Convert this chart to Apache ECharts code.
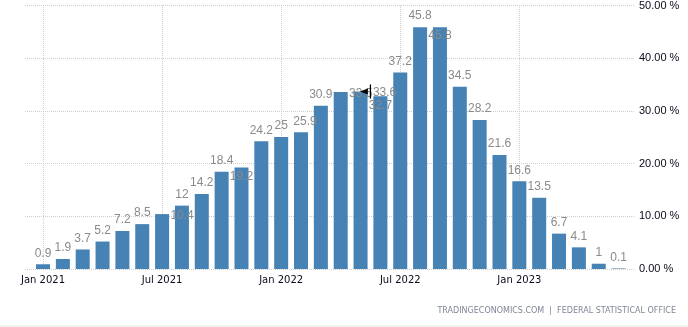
<!DOCTYPE html>
<html>
<head>
<meta charset="utf-8">
<script src="https://cdn.jsdelivr.net/npm/echarts@6/dist/echarts.min.js"></script>
<style>
  html, body { margin: 0; padding: 0; background: #fff; }
  #chart { width: 688px; height: 327px; }
</style>
</head>
<body>
<div id="chart"></div>
<script>
// Germany producer prices, year-on-year change (%), monthly
const months = [
  'Jan 2021', 'Feb 2021', 'Mar 2021', 'Apr 2021', 'May 2021', 'Jun 2021',
  'Jul 2021', 'Aug 2021', 'Sep 2021', 'Oct 2021', 'Nov 2021', 'Dec 2021',
  'Jan 2022', 'Feb 2022', 'Mar 2022', 'Apr 2022', 'May 2022', 'Jun 2022',
  'Jul 2022', 'Aug 2022', 'Sep 2022', 'Oct 2022', 'Nov 2022', 'Dec 2022',
  'Jan 2023', 'Feb 2023', 'Mar 2023', 'Apr 2023', 'May 2023', 'Jun 2023'
];
const ppiYoY = [
  0.9, 1.9, 3.7, 5.2, 7.2, 8.5,
  10.4, 12, 14.2, 18.4, 19.2, 24.2,
  25, 25.9, 30.9, 33.5, 33.6, 32.7,
  37.2, 45.8, 45.8, 34.5, 28.2, 21.6,
  16.6, 13.5, 6.7, 4.1, 1, 0.1
];
const yTicks = [0, 10, 20, 30, 40, 50];
const sourceNote = 'TRADINGECONOMICS.COM  |  FEDERAL STATISTICAL OFFICE';

// value labels that are nudged aside so they do not collide
const labelTweaks = {
  'Jul 2021': { offset: [20, 13] },
  'Nov 2021': { position: 'insideTop', distance: 3 },
  'Feb 2022': { offset: [4, 0] },
  'Apr 2022': { offset: [20, 13] },
  'May 2022': { offset: [24, 12] },
  'Jun 2022': { position: 'insideTop', distance: 3 },
  'Sep 2022': { position: 'insideTop', distance: 3 }
};

const barData = ppiYoY.map((v, i) => {
  const tweak = labelTweaks[months[i]];
  return tweak ? { value: v, label: tweak } : v;
});

const dotted = { color: '#cfcfcf', type: 'dotted', width: 1 };
const halfYear = (i) => i % 6 === 0;

const chart = echarts.init(document.getElementById('chart'), null, { renderer: 'canvas' });
chart.setOption({
  animation: false,
  backgroundColor: '#fff',
  grid: [
    { left: 25, right: 54, top: 5, bottom: 58 },
    { left: 33.08, right: 59.5, top: 5, bottom: 58 }
  ],
  xAxis: [
    { type: 'value', gridIndex: 0, show: false, min: 0, max: 1 },
    {
      type: 'category',
      gridIndex: 1,
      data: months,
      boundaryGap: true,
      axisLine: { show: false },
      axisTick: { show: false },
      axisLabel: {
        interval: halfYear,
        margin: 6,
        color: '#0a0a1a',
        fontFamily: 'DejaVu Sans',
        fontSize: 10
      },
      splitLine: {
        show: true,
        interval: halfYear,
        alignWithLabel: true,
        lineStyle: dotted
      }
    }
  ],
  yAxis: [
    {
      type: 'value',
      gridIndex: 0,
      position: 'right',
      min: yTicks[0],
      max: yTicks[yTicks.length - 1],
      interval: yTicks[1] - yTicks[0],
      axisLine: { show: false },
      axisTick: { show: false },
      axisLabel: {
        margin: 5,
        color: '#0a0a1a',
        fontFamily: 'Liberation Sans',
        fontSize: 11,
        formatter: (v) => v.toFixed(2) + ' %'
      },
      splitLine: { show: true, lineStyle: dotted }
    },
    {
      type: 'value',
      gridIndex: 1,
      min: yTicks[0],
      max: yTicks[yTicks.length - 1],
      show: false
    }
  ],
  series: [
    {
      type: 'bar',
      xAxisIndex: 1,
      yAxisIndex: 1,
      data: barData,
      barWidth: 14,
      itemStyle: { color: '#4682b4' },
      label: {
        show: true,
        position: 'top',
        distance: 5,
        color: '#8a8a8a',
        fontFamily: 'Liberation Sans',
        fontSize: 12
      },
      markPoint: {
        silent: true,
        label: { show: false },
        data: [{
          coord: ['May 2022', 33.6],
          symbol: 'path://M0,7 L8,4 L8,10 Z M10,0 L11.3,0 L11.3,14 L10,14 Z',
          symbolSize: [11, 14],
          symbolOffset: [5, 0],
          itemStyle: { color: '#000' }
        }]
      }
    }
  ],
  graphic: [
    {
      type: 'text',
      right: 12,
      top: 307,
      silent: true,
      style: {
        text: sourceNote,
        fill: '#7d8796',
        font: '8px "DejaVu Sans"'
      }
    },
    {
      type: 'rect',
      left: 0,
      top: 325,
      silent: true,
      shape: { width: 688, height: 2 },
      style: { fill: '#f1f1f1' }
    }
  ]
});
</script>
</body>
</html>
